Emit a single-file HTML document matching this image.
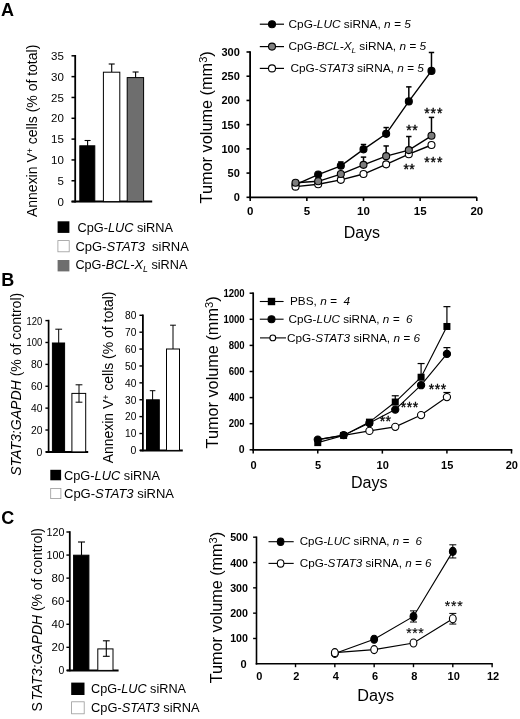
<!DOCTYPE html>
<html><head><meta charset="utf-8"><title>Figure</title>
<style>
html,body{margin:0;padding:0;background:#fff;}
body{width:520px;height:719px;overflow:hidden;font-family:"Liberation Sans",sans-serif;}
svg{display:block;filter:blur(0.35px);}
text{fill:#000;}
</style></head><body>
<svg width="520" height="719" viewBox="0 0 520 719" font-family="Liberation Sans, sans-serif">
<rect x="0" y="0" width="520" height="719" fill="#fff"/>
<text x="1.00" y="16.00" font-size="18" text-anchor="start" font-weight="bold" >A</text>
<text x="1.30" y="285.80" font-size="18" text-anchor="start" font-weight="bold" >B</text>
<text x="1.30" y="523.90" font-size="18" text-anchor="start" font-weight="bold" >C</text>
<line x1="75.20" y1="55.00" x2="75.20" y2="202.50" stroke="#000" stroke-width="1.8"/>
<line x1="71.60" y1="201.60" x2="152.20" y2="201.60" stroke="#000" stroke-width="2.0"/>
<line x1="71.50" y1="201.60" x2="75.20" y2="201.60" stroke="#000" stroke-width="1.5"/>
<text x="63.80" y="205.80" font-size="11.5" text-anchor="end" >0</text>
<line x1="71.50" y1="180.77" x2="75.20" y2="180.77" stroke="#000" stroke-width="1.5"/>
<text x="63.80" y="184.97" font-size="11.5" text-anchor="end" >5</text>
<line x1="71.50" y1="159.94" x2="75.20" y2="159.94" stroke="#000" stroke-width="1.5"/>
<text x="63.80" y="164.14" font-size="11.5" text-anchor="end" >10</text>
<line x1="71.50" y1="139.11" x2="75.20" y2="139.11" stroke="#000" stroke-width="1.5"/>
<text x="63.80" y="143.31" font-size="11.5" text-anchor="end" >15</text>
<line x1="71.50" y1="118.29" x2="75.20" y2="118.29" stroke="#000" stroke-width="1.5"/>
<text x="63.80" y="122.49" font-size="11.5" text-anchor="end" >20</text>
<line x1="71.50" y1="97.46" x2="75.20" y2="97.46" stroke="#000" stroke-width="1.5"/>
<text x="63.80" y="101.66" font-size="11.5" text-anchor="end" >25</text>
<line x1="71.50" y1="76.63" x2="75.20" y2="76.63" stroke="#000" stroke-width="1.5"/>
<text x="63.80" y="80.83" font-size="11.5" text-anchor="end" >30</text>
<line x1="71.50" y1="55.80" x2="75.20" y2="55.80" stroke="#000" stroke-width="1.5"/>
<text x="63.80" y="60.00" font-size="11.5" text-anchor="end" >35</text>
<rect x="79.80" y="145.80" width="15.00" height="55.80" fill="#000" stroke="#000" stroke-width="1.0"/>
<line x1="87.60" y1="140.50" x2="87.60" y2="146.00" stroke="#000" stroke-width="1.1"/>
<line x1="84.60" y1="140.50" x2="90.60" y2="140.50" stroke="#000" stroke-width="1.1"/>
<rect x="103.40" y="72.20" width="16.40" height="129.40" fill="#fff" stroke="#000" stroke-width="1.0"/>
<line x1="111.70" y1="64.00" x2="111.70" y2="72.00" stroke="#000" stroke-width="1.1"/>
<line x1="108.70" y1="64.00" x2="114.70" y2="64.00" stroke="#000" stroke-width="1.1"/>
<rect x="127.20" y="77.60" width="16.40" height="124.00" fill="#6e6e6e" stroke="#000" stroke-width="1.0"/>
<line x1="135.60" y1="72.00" x2="135.60" y2="77.50" stroke="#000" stroke-width="1.1"/>
<line x1="132.60" y1="72.00" x2="138.60" y2="72.00" stroke="#000" stroke-width="1.1"/>
<text x="37.40" y="217.00" font-size="14" text-anchor="start" textLength="172.3" lengthAdjust="spacingAndGlyphs" transform="rotate(-90 37.40 217.00)" >Annexin V<tspan font-size="9" dy="-4.5">+</tspan><tspan dy="4.5"> cells (% of total)</tspan></text>
<rect x="57.6" y="221.3" width="11.8" height="11.6" fill="#000"/>
<rect x="57.9" y="240.6" width="11.3" height="11.2" fill="#fff" stroke="#999" stroke-width="0.8"/>
<rect x="57.6" y="260" width="11.8" height="11.4" fill="#6e6e6e"/>
<text x="77.50" y="231.80" font-size="13" text-anchor="start" textLength="95.5" lengthAdjust="spacingAndGlyphs" >CpG-<tspan font-style="italic">LUC</tspan> siRNA</text>
<text x="75.40" y="250.90" font-size="13" text-anchor="start" textLength="113.5" lengthAdjust="spacingAndGlyphs" xml:space="preserve">CpG-<tspan font-style="italic">STAT3</tspan>  siRNA</text>
<text x="75.40" y="269.20" font-size="13" text-anchor="start" textLength="112.0" lengthAdjust="spacingAndGlyphs" >CpG-<tspan font-style="italic">BCL-X<tspan font-size="9" dy="3">L</tspan></tspan><tspan dy="-3"> siRNA</tspan></text>
<line x1="250.10" y1="51.20" x2="250.10" y2="198.20" stroke="#000" stroke-width="1.8"/>
<line x1="249.20" y1="197.30" x2="476.90" y2="197.30" stroke="#000" stroke-width="1.8"/>
<line x1="246.50" y1="197.30" x2="250.10" y2="197.30" stroke="#000" stroke-width="1.6"/>
<text x="239.80" y="201.20" font-size="11" text-anchor="end" font-weight="bold" >0</text>
<line x1="246.50" y1="173.08" x2="250.10" y2="173.08" stroke="#000" stroke-width="1.6"/>
<text x="239.80" y="176.98" font-size="11" text-anchor="end" font-weight="bold" >50</text>
<line x1="246.50" y1="148.87" x2="250.10" y2="148.87" stroke="#000" stroke-width="1.6"/>
<text x="239.80" y="152.77" font-size="11" text-anchor="end" font-weight="bold" >100</text>
<line x1="246.50" y1="124.65" x2="250.10" y2="124.65" stroke="#000" stroke-width="1.6"/>
<text x="239.80" y="128.55" font-size="11" text-anchor="end" font-weight="bold" >150</text>
<line x1="246.50" y1="100.43" x2="250.10" y2="100.43" stroke="#000" stroke-width="1.6"/>
<text x="239.80" y="104.33" font-size="11" text-anchor="end" font-weight="bold" >200</text>
<line x1="246.50" y1="76.22" x2="250.10" y2="76.22" stroke="#000" stroke-width="1.6"/>
<text x="239.80" y="80.12" font-size="11" text-anchor="end" font-weight="bold" >250</text>
<line x1="246.50" y1="52.00" x2="250.10" y2="52.00" stroke="#000" stroke-width="1.6"/>
<text x="239.80" y="55.90" font-size="11" text-anchor="end" font-weight="bold" >300</text>
<line x1="250.20" y1="197.30" x2="250.20" y2="200.90" stroke="#000" stroke-width="1.6"/>
<text x="250.20" y="215.40" font-size="11.5" text-anchor="middle" font-weight="bold" >0</text>
<line x1="306.85" y1="197.30" x2="306.85" y2="200.90" stroke="#000" stroke-width="1.6"/>
<text x="306.85" y="215.40" font-size="11.5" text-anchor="middle" font-weight="bold" >5</text>
<line x1="363.50" y1="197.30" x2="363.50" y2="200.90" stroke="#000" stroke-width="1.6"/>
<text x="363.50" y="215.40" font-size="11.5" text-anchor="middle" font-weight="bold" >10</text>
<line x1="420.15" y1="197.30" x2="420.15" y2="200.90" stroke="#000" stroke-width="1.6"/>
<text x="420.15" y="215.40" font-size="11.5" text-anchor="middle" font-weight="bold" >15</text>
<line x1="476.80" y1="197.30" x2="476.80" y2="200.90" stroke="#000" stroke-width="1.6"/>
<text x="476.80" y="215.40" font-size="11.5" text-anchor="middle" font-weight="bold" >20</text>
<line x1="340.84" y1="161.94" x2="340.84" y2="165.82" stroke="#000" stroke-width="1.5"/>
<line x1="338.14" y1="161.94" x2="343.54" y2="161.94" stroke="#000" stroke-width="1.5"/>
<line x1="363.50" y1="144.51" x2="363.50" y2="149.35" stroke="#000" stroke-width="1.5"/>
<line x1="360.80" y1="144.51" x2="366.20" y2="144.51" stroke="#000" stroke-width="1.5"/>
<line x1="386.16" y1="127.56" x2="386.16" y2="133.85" stroke="#000" stroke-width="1.5"/>
<line x1="383.46" y1="127.56" x2="388.86" y2="127.56" stroke="#000" stroke-width="1.5"/>
<line x1="408.82" y1="86.87" x2="408.82" y2="101.40" stroke="#000" stroke-width="1.5"/>
<line x1="406.12" y1="86.87" x2="411.52" y2="86.87" stroke="#000" stroke-width="1.5"/>
<line x1="431.48" y1="52.48" x2="431.48" y2="70.89" stroke="#000" stroke-width="1.5"/>
<line x1="428.78" y1="52.48" x2="434.18" y2="52.48" stroke="#000" stroke-width="1.5"/>
<line x1="363.50" y1="157.10" x2="363.50" y2="164.85" stroke="#000" stroke-width="1.5"/>
<line x1="360.80" y1="157.10" x2="366.20" y2="157.10" stroke="#000" stroke-width="1.5"/>
<line x1="386.16" y1="145.96" x2="386.16" y2="156.13" stroke="#000" stroke-width="1.5"/>
<line x1="383.46" y1="145.96" x2="388.86" y2="145.96" stroke="#000" stroke-width="1.5"/>
<line x1="408.82" y1="136.52" x2="408.82" y2="150.08" stroke="#000" stroke-width="1.5"/>
<line x1="406.12" y1="136.52" x2="411.52" y2="136.52" stroke="#000" stroke-width="1.5"/>
<line x1="431.48" y1="117.39" x2="431.48" y2="135.79" stroke="#000" stroke-width="1.5"/>
<line x1="428.78" y1="117.39" x2="434.18" y2="117.39" stroke="#000" stroke-width="1.5"/>
<polyline fill="none" stroke="#000" stroke-width="1.4" points="295.52,184.71 318.18,174.54 340.84,165.82 363.50,149.35 386.16,133.85 408.82,101.40 431.48,70.89"/>
<polyline fill="none" stroke="#000" stroke-width="1.4" points="295.52,182.77 318.18,181.32 340.84,174.05 363.50,164.85 386.16,156.13 408.82,150.08 431.48,135.79"/>
<polyline fill="none" stroke="#000" stroke-width="1.4" points="295.52,186.64 318.18,184.22 340.84,179.86 363.50,174.05 386.16,164.37 408.82,154.19 431.48,144.99"/>
<circle cx="295.52" cy="184.71" r="3.5" fill="#000" stroke="#000" stroke-width="1.1"/>
<circle cx="318.18" cy="174.54" r="3.5" fill="#000" stroke="#000" stroke-width="1.1"/>
<circle cx="340.84" cy="165.82" r="3.5" fill="#000" stroke="#000" stroke-width="1.1"/>
<circle cx="363.50" cy="149.35" r="3.5" fill="#000" stroke="#000" stroke-width="1.1"/>
<circle cx="386.16" cy="133.85" r="3.5" fill="#000" stroke="#000" stroke-width="1.1"/>
<circle cx="408.82" cy="101.40" r="3.5" fill="#000" stroke="#000" stroke-width="1.1"/>
<circle cx="431.48" cy="70.89" r="3.5" fill="#000" stroke="#000" stroke-width="1.1"/>
<circle cx="295.52" cy="186.64" r="3.5" fill="#fff" stroke="#000" stroke-width="1.1"/>
<circle cx="318.18" cy="184.22" r="3.5" fill="#fff" stroke="#000" stroke-width="1.1"/>
<circle cx="340.84" cy="179.86" r="3.5" fill="#fff" stroke="#000" stroke-width="1.1"/>
<circle cx="363.50" cy="174.05" r="3.5" fill="#fff" stroke="#000" stroke-width="1.1"/>
<circle cx="386.16" cy="164.37" r="3.5" fill="#fff" stroke="#000" stroke-width="1.1"/>
<circle cx="408.82" cy="154.19" r="3.5" fill="#fff" stroke="#000" stroke-width="1.1"/>
<circle cx="431.48" cy="144.99" r="3.5" fill="#fff" stroke="#000" stroke-width="1.1"/>
<circle cx="295.52" cy="182.77" r="3.5" fill="#7c7c7c" stroke="#000" stroke-width="1.1"/>
<circle cx="318.18" cy="181.32" r="3.5" fill="#7c7c7c" stroke="#000" stroke-width="1.1"/>
<circle cx="340.84" cy="174.05" r="3.5" fill="#7c7c7c" stroke="#000" stroke-width="1.1"/>
<circle cx="363.50" cy="164.85" r="3.5" fill="#7c7c7c" stroke="#000" stroke-width="1.1"/>
<circle cx="386.16" cy="156.13" r="3.5" fill="#7c7c7c" stroke="#000" stroke-width="1.1"/>
<circle cx="408.82" cy="150.08" r="3.5" fill="#7c7c7c" stroke="#000" stroke-width="1.1"/>
<circle cx="431.48" cy="135.79" r="3.5" fill="#7c7c7c" stroke="#000" stroke-width="1.1"/>
<text x="211.80" y="203.40" font-size="16" text-anchor="start" textLength="152.2" lengthAdjust="spacingAndGlyphs" transform="rotate(-90 211.80 203.40)" >Tumor volume (mm<tspan font-size="11" dy="-5">3</tspan><tspan dy="5">)</tspan></text>
<text x="343.70" y="237.70" font-size="16" text-anchor="start" textLength="36.4" lengthAdjust="spacingAndGlyphs" >Days</text>
<line x1="259.80" y1="24.20" x2="284.00" y2="24.20" stroke="#000" stroke-width="1.2"/>
<circle cx="272.00" cy="24.20" r="3.5" fill="#000" stroke="#000" stroke-width="1.1"/>
<line x1="259.80" y1="46.60" x2="284.00" y2="46.60" stroke="#000" stroke-width="1.2"/>
<circle cx="272.00" cy="46.60" r="3.5" fill="#808080" stroke="#000" stroke-width="1.1"/>
<line x1="259.80" y1="68.40" x2="284.00" y2="68.40" stroke="#000" stroke-width="1.2"/>
<circle cx="272.00" cy="68.40" r="3.5" fill="#fff" stroke="#000" stroke-width="1.1"/>
<text x="288.50" y="28.00" font-size="11.5" text-anchor="start" textLength="122.3" lengthAdjust="spacingAndGlyphs" >CpG-<tspan font-style="italic">LUC</tspan> siRNA, <tspan font-style="italic">n = 5</tspan></text>
<text x="288.50" y="50.40" font-size="11.5" text-anchor="start" textLength="137.5" lengthAdjust="spacingAndGlyphs" >CpG-<tspan font-style="italic">BCL-X<tspan font-size="8" dy="2.6">L</tspan></tspan><tspan dy="-2.6"> siRNA, </tspan><tspan font-style="italic">n = 5</tspan></text>
<text x="290.40" y="71.70" font-size="11.5" text-anchor="start" textLength="133.4" lengthAdjust="spacingAndGlyphs" >CpG-<tspan font-style="italic">STAT3</tspan> siRNA, <tspan font-style="italic">n = 5</tspan></text>
<text x="427.00" y="118.08" font-size="14" text-anchor="middle" stroke="#000" stroke-width="0.35">*</text>
<text x="433.35" y="118.08" font-size="14" text-anchor="middle" stroke="#000" stroke-width="0.35">*</text>
<text x="439.70" y="118.08" font-size="14" text-anchor="middle" stroke="#000" stroke-width="0.35">*</text>
<text x="409.10" y="134.88" font-size="14" text-anchor="middle" stroke="#000" stroke-width="0.35">*</text>
<text x="415.00" y="134.88" font-size="14" text-anchor="middle" stroke="#000" stroke-width="0.35">*</text>
<text x="406.30" y="174.08" font-size="14" text-anchor="middle" stroke="#000" stroke-width="0.35">*</text>
<text x="412.10" y="174.08" font-size="14" text-anchor="middle" stroke="#000" stroke-width="0.35">*</text>
<text x="427.00" y="167.18" font-size="14" text-anchor="middle" stroke="#000" stroke-width="0.35">*</text>
<text x="433.35" y="167.18" font-size="14" text-anchor="middle" stroke="#000" stroke-width="0.35">*</text>
<text x="439.70" y="167.18" font-size="14" text-anchor="middle" stroke="#000" stroke-width="0.35">*</text>
<line x1="48.60" y1="319.80" x2="48.60" y2="452.80" stroke="#000" stroke-width="1.7"/>
<line x1="45.80" y1="451.90" x2="88.20" y2="451.90" stroke="#000" stroke-width="2.0"/>
<line x1="45.40" y1="451.90" x2="48.60" y2="451.90" stroke="#000" stroke-width="1.4"/>
<text x="42.40" y="455.80" font-size="10.5" text-anchor="end" >0</text>
<line x1="45.40" y1="430.02" x2="48.60" y2="430.02" stroke="#000" stroke-width="1.4"/>
<text x="42.40" y="433.92" font-size="10.5" text-anchor="end" textLength="11.5" lengthAdjust="spacingAndGlyphs" >20</text>
<line x1="45.40" y1="408.13" x2="48.60" y2="408.13" stroke="#000" stroke-width="1.4"/>
<text x="42.40" y="412.03" font-size="10.5" text-anchor="end" textLength="11.5" lengthAdjust="spacingAndGlyphs" >40</text>
<line x1="45.40" y1="386.25" x2="48.60" y2="386.25" stroke="#000" stroke-width="1.4"/>
<text x="42.40" y="390.15" font-size="10.5" text-anchor="end" textLength="11.5" lengthAdjust="spacingAndGlyphs" >60</text>
<line x1="45.40" y1="364.37" x2="48.60" y2="364.37" stroke="#000" stroke-width="1.4"/>
<text x="42.40" y="368.27" font-size="10.5" text-anchor="end" textLength="11.5" lengthAdjust="spacingAndGlyphs" >80</text>
<line x1="45.40" y1="342.48" x2="48.60" y2="342.48" stroke="#000" stroke-width="1.4"/>
<text x="42.40" y="346.38" font-size="10.5" text-anchor="end" textLength="15.8" lengthAdjust="spacingAndGlyphs" >100</text>
<line x1="45.40" y1="320.60" x2="48.60" y2="320.60" stroke="#000" stroke-width="1.4"/>
<text x="42.40" y="324.50" font-size="10.5" text-anchor="end" textLength="15.8" lengthAdjust="spacingAndGlyphs" >120</text>
<rect x="52.40" y="343.00" width="12.20" height="108.90" fill="#000" stroke="#000" stroke-width="1.0"/>
<line x1="58.70" y1="329.20" x2="58.70" y2="343.00" stroke="#000" stroke-width="1.0"/>
<line x1="55.30" y1="329.20" x2="62.10" y2="329.20" stroke="#000" stroke-width="1.0"/>
<rect x="71.90" y="393.40" width="13.80" height="58.50" fill="#fff" stroke="#000" stroke-width="1.0"/>
<line x1="79.00" y1="384.80" x2="79.00" y2="402.20" stroke="#000" stroke-width="1.0"/>
<line x1="75.60" y1="384.80" x2="82.40" y2="384.80" stroke="#000" stroke-width="1.0"/>
<line x1="75.60" y1="402.20" x2="82.40" y2="402.20" stroke="#000" stroke-width="1.0"/>
<text x="20.90" y="475.80" font-size="14" text-anchor="start" textLength="183.0" lengthAdjust="spacingAndGlyphs" transform="rotate(-90 20.90 475.80)" ><tspan font-style="italic">STAT3:GAPDH</tspan> (% of control)</text>
<line x1="142.90" y1="314.50" x2="142.90" y2="451.30" stroke="#000" stroke-width="1.8"/>
<line x1="140.00" y1="450.40" x2="182.80" y2="450.40" stroke="#000" stroke-width="2.0"/>
<line x1="139.40" y1="450.40" x2="142.90" y2="450.40" stroke="#000" stroke-width="1.4"/>
<text x="136.30" y="454.20" font-size="10.5" text-anchor="end" >0</text>
<line x1="139.40" y1="433.51" x2="142.90" y2="433.51" stroke="#000" stroke-width="1.4"/>
<text x="136.30" y="437.31" font-size="10.5" text-anchor="end" textLength="11.3" lengthAdjust="spacingAndGlyphs" >10</text>
<line x1="139.40" y1="416.62" x2="142.90" y2="416.62" stroke="#000" stroke-width="1.4"/>
<text x="136.30" y="420.43" font-size="10.5" text-anchor="end" textLength="11.3" lengthAdjust="spacingAndGlyphs" >20</text>
<line x1="139.40" y1="399.74" x2="142.90" y2="399.74" stroke="#000" stroke-width="1.4"/>
<text x="136.30" y="403.54" font-size="10.5" text-anchor="end" textLength="11.3" lengthAdjust="spacingAndGlyphs" >30</text>
<line x1="139.40" y1="382.85" x2="142.90" y2="382.85" stroke="#000" stroke-width="1.4"/>
<text x="136.30" y="386.65" font-size="10.5" text-anchor="end" textLength="11.3" lengthAdjust="spacingAndGlyphs" >40</text>
<line x1="139.40" y1="365.96" x2="142.90" y2="365.96" stroke="#000" stroke-width="1.4"/>
<text x="136.30" y="369.76" font-size="10.5" text-anchor="end" textLength="11.3" lengthAdjust="spacingAndGlyphs" >50</text>
<line x1="139.40" y1="349.07" x2="142.90" y2="349.07" stroke="#000" stroke-width="1.4"/>
<text x="136.30" y="352.88" font-size="10.5" text-anchor="end" textLength="11.3" lengthAdjust="spacingAndGlyphs" >60</text>
<line x1="139.40" y1="332.19" x2="142.90" y2="332.19" stroke="#000" stroke-width="1.4"/>
<text x="136.30" y="335.99" font-size="10.5" text-anchor="end" textLength="11.3" lengthAdjust="spacingAndGlyphs" >70</text>
<line x1="139.40" y1="315.30" x2="142.90" y2="315.30" stroke="#000" stroke-width="1.4"/>
<text x="136.30" y="319.10" font-size="10.5" text-anchor="end" textLength="11.3" lengthAdjust="spacingAndGlyphs" >80</text>
<rect x="146.50" y="399.80" width="12.80" height="50.60" fill="#000" stroke="#000" stroke-width="1.0"/>
<line x1="152.60" y1="390.70" x2="152.60" y2="400.00" stroke="#000" stroke-width="1.0"/>
<line x1="149.80" y1="390.70" x2="155.40" y2="390.70" stroke="#000" stroke-width="1.0"/>
<rect x="166.50" y="349.00" width="13.00" height="101.40" fill="#fff" stroke="#000" stroke-width="1.0"/>
<line x1="173.00" y1="325.20" x2="173.00" y2="349.00" stroke="#000" stroke-width="1.0"/>
<line x1="170.10" y1="325.20" x2="175.90" y2="325.20" stroke="#000" stroke-width="1.0"/>
<text x="113.50" y="463.30" font-size="14" text-anchor="start" textLength="171.8" lengthAdjust="spacingAndGlyphs" transform="rotate(-90 113.50 463.30)" >Annexin V<tspan font-size="9" dy="-4.5">+</tspan><tspan dy="4.5"> cells (% of total)</tspan></text>
<rect x="50.3" y="469.8" width="10.8" height="10.5" fill="#000"/>
<rect x="50.7" y="488.4" width="10.2" height="10.2" fill="#fff" stroke="#999" stroke-width="0.8"/>
<text x="64.00" y="479.70" font-size="13" text-anchor="start" textLength="96.0" lengthAdjust="spacingAndGlyphs" >CpG-<tspan font-style="italic">LUC</tspan> siRNA</text>
<text x="64.00" y="497.60" font-size="13" text-anchor="start" textLength="110.0" lengthAdjust="spacingAndGlyphs" >CpG-<tspan font-style="italic">STAT3</tspan> siRNA</text>
<line x1="253.20" y1="292.40" x2="253.20" y2="450.60" stroke="#000" stroke-width="1.7"/>
<line x1="252.40" y1="449.80" x2="512.30" y2="449.80" stroke="#000" stroke-width="1.7"/>
<line x1="249.60" y1="449.80" x2="253.20" y2="449.80" stroke="#000" stroke-width="1.5"/>
<text x="244.70" y="453.40" font-size="10.5" text-anchor="end" font-weight="bold" >0</text>
<line x1="249.60" y1="423.70" x2="253.20" y2="423.70" stroke="#000" stroke-width="1.5"/>
<text x="244.70" y="427.30" font-size="10.5" text-anchor="end" font-weight="bold" textLength="16.0" lengthAdjust="spacingAndGlyphs" >200</text>
<line x1="249.60" y1="397.60" x2="253.20" y2="397.60" stroke="#000" stroke-width="1.5"/>
<text x="244.70" y="401.20" font-size="10.5" text-anchor="end" font-weight="bold" textLength="16.0" lengthAdjust="spacingAndGlyphs" >400</text>
<line x1="249.60" y1="371.50" x2="253.20" y2="371.50" stroke="#000" stroke-width="1.5"/>
<text x="244.70" y="375.10" font-size="10.5" text-anchor="end" font-weight="bold" textLength="16.0" lengthAdjust="spacingAndGlyphs" >600</text>
<line x1="249.60" y1="345.40" x2="253.20" y2="345.40" stroke="#000" stroke-width="1.5"/>
<text x="244.70" y="349.00" font-size="10.5" text-anchor="end" font-weight="bold" textLength="16.0" lengthAdjust="spacingAndGlyphs" >800</text>
<line x1="249.60" y1="319.30" x2="253.20" y2="319.30" stroke="#000" stroke-width="1.5"/>
<text x="244.70" y="322.90" font-size="10.5" text-anchor="end" font-weight="bold" textLength="21.3" lengthAdjust="spacingAndGlyphs" >1000</text>
<line x1="249.60" y1="293.20" x2="253.20" y2="293.20" stroke="#000" stroke-width="1.5"/>
<text x="244.70" y="296.80" font-size="10.5" text-anchor="end" font-weight="bold" textLength="21.3" lengthAdjust="spacingAndGlyphs" >1200</text>
<line x1="253.20" y1="449.80" x2="253.20" y2="453.60" stroke="#000" stroke-width="1.5"/>
<text x="253.50" y="469.30" font-size="11" text-anchor="middle" font-weight="bold" >0</text>
<line x1="317.77" y1="449.80" x2="317.77" y2="453.60" stroke="#000" stroke-width="1.5"/>
<text x="318.07" y="469.30" font-size="11" text-anchor="middle" font-weight="bold" >5</text>
<line x1="382.35" y1="449.80" x2="382.35" y2="453.60" stroke="#000" stroke-width="1.5"/>
<text x="382.65" y="469.30" font-size="11" text-anchor="middle" font-weight="bold" >10</text>
<line x1="446.92" y1="449.80" x2="446.92" y2="453.60" stroke="#000" stroke-width="1.5"/>
<text x="447.22" y="469.30" font-size="11" text-anchor="middle" font-weight="bold" >15</text>
<line x1="511.50" y1="449.80" x2="511.50" y2="453.60" stroke="#000" stroke-width="1.5"/>
<text x="511.80" y="469.30" font-size="11" text-anchor="middle" font-weight="bold" >20</text>
<line x1="395.26" y1="395.77" x2="395.26" y2="402.04" stroke="#000" stroke-width="1.2"/>
<line x1="391.76" y1="395.77" x2="398.76" y2="395.77" stroke="#000" stroke-width="1.2"/>
<line x1="421.09" y1="363.54" x2="421.09" y2="377.24" stroke="#000" stroke-width="1.2"/>
<line x1="417.59" y1="363.54" x2="424.59" y2="363.54" stroke="#000" stroke-width="1.2"/>
<line x1="446.92" y1="306.64" x2="446.92" y2="326.48" stroke="#000" stroke-width="1.2"/>
<line x1="443.42" y1="306.64" x2="450.42" y2="306.64" stroke="#000" stroke-width="1.2"/>
<line x1="446.92" y1="347.62" x2="446.92" y2="353.88" stroke="#000" stroke-width="1.2"/>
<line x1="443.42" y1="347.62" x2="450.42" y2="347.62" stroke="#000" stroke-width="1.2"/>
<line x1="446.92" y1="392.51" x2="446.92" y2="397.08" stroke="#000" stroke-width="1.2"/>
<line x1="443.42" y1="392.51" x2="450.42" y2="392.51" stroke="#000" stroke-width="1.2"/>
<polyline fill="none" stroke="#000" stroke-width="1.15" points="317.77,442.62 343.61,435.44 369.43,422.13 395.26,402.04 421.09,377.24 446.92,326.48"/>
<polyline fill="none" stroke="#000" stroke-width="1.15" points="317.77,439.62 343.61,435.18 369.43,423.05 395.26,409.61 421.09,385.20 446.92,353.88"/>
<polyline fill="none" stroke="#000" stroke-width="1.15" points="317.77,439.62 343.61,435.44 369.43,430.88 395.26,426.83 421.09,415.09 446.92,397.08"/>
<rect x="314.27" y="439.12" width="7.0" height="7.0" fill="#000"/>
<rect x="340.11" y="431.94" width="7.0" height="7.0" fill="#000"/>
<rect x="365.93" y="418.63" width="7.0" height="7.0" fill="#000"/>
<rect x="391.76" y="398.54" width="7.0" height="7.0" fill="#000"/>
<rect x="417.59" y="373.74" width="7.0" height="7.0" fill="#000"/>
<rect x="443.42" y="322.98" width="7.0" height="7.0" fill="#000"/>
<circle cx="317.77" cy="439.62" r="3.6" fill="#000" stroke="#000" stroke-width="1.1"/>
<circle cx="343.61" cy="435.18" r="3.6" fill="#000" stroke="#000" stroke-width="1.1"/>
<circle cx="369.43" cy="423.05" r="3.6" fill="#000" stroke="#000" stroke-width="1.1"/>
<circle cx="395.26" cy="409.61" r="3.6" fill="#000" stroke="#000" stroke-width="1.1"/>
<circle cx="421.09" cy="385.20" r="3.6" fill="#000" stroke="#000" stroke-width="1.1"/>
<circle cx="446.92" cy="353.88" r="3.6" fill="#000" stroke="#000" stroke-width="1.1"/>
<circle cx="369.43" cy="430.88" r="3.6" fill="#fff" stroke="#000" stroke-width="1.1"/>
<circle cx="395.26" cy="426.83" r="3.6" fill="#fff" stroke="#000" stroke-width="1.1"/>
<circle cx="421.09" cy="415.09" r="3.6" fill="#fff" stroke="#000" stroke-width="1.1"/>
<circle cx="446.92" cy="397.08" r="3.6" fill="#fff" stroke="#000" stroke-width="1.1"/>
<text x="217.90" y="448.40" font-size="16" text-anchor="start" textLength="152.0" lengthAdjust="spacingAndGlyphs" transform="rotate(-90 217.90 448.40)" >Tumor volume (mm<tspan font-size="11" dy="-5">3</tspan><tspan dy="5">)</tspan></text>
<text x="350.90" y="487.80" font-size="16" text-anchor="start" textLength="36.6" lengthAdjust="spacingAndGlyphs" >Days</text>
<line x1="259.80" y1="301.50" x2="283.60" y2="301.50" stroke="#000" stroke-width="1.1"/>
<rect x="267.80" y="297.80" width="7.4" height="7.4" fill="#000"/>
<line x1="259.80" y1="319.20" x2="283.60" y2="319.20" stroke="#000" stroke-width="1.1"/>
<circle cx="271.50" cy="319.20" r="3.5" fill="#000" stroke="#000" stroke-width="1.1"/>
<line x1="260.00" y1="337.90" x2="286.00" y2="337.90" stroke="#000" stroke-width="1.1"/>
<circle cx="272.80" cy="337.90" r="2.9" fill="#fff" stroke="#000" stroke-width="1.1"/>
<text x="290.00" y="305.30" font-size="11" text-anchor="start" textLength="60.0" lengthAdjust="spacingAndGlyphs" xml:space="preserve">PBS, <tspan font-style="italic">n =  4</tspan></text>
<text x="288.50" y="323.00" font-size="11" text-anchor="start" textLength="124.0" lengthAdjust="spacingAndGlyphs" xml:space="preserve">CpG-<tspan font-style="italic">LUC</tspan> siRNA, <tspan font-style="italic">n =  6</tspan></text>
<text x="287.00" y="341.50" font-size="11" text-anchor="start" textLength="133.0" lengthAdjust="spacingAndGlyphs" >CpG-<tspan font-style="italic">STAT3</tspan> siRNA, <tspan font-style="italic">n = 6</tspan></text>
<text x="382.60" y="425.58" font-size="14" text-anchor="middle" stroke="#000" stroke-width="0.35">*</text>
<text x="388.20" y="425.58" font-size="14" text-anchor="middle" stroke="#000" stroke-width="0.35">*</text>
<text x="403.40" y="412.08" font-size="14" text-anchor="middle" stroke="#000" stroke-width="0.35">*</text>
<text x="409.50" y="412.08" font-size="14" text-anchor="middle" stroke="#000" stroke-width="0.35">*</text>
<text x="415.60" y="412.08" font-size="14" text-anchor="middle" stroke="#000" stroke-width="0.35">*</text>
<text x="431.40" y="393.88" font-size="14" text-anchor="middle" stroke="#000" stroke-width="0.35">*</text>
<text x="437.45" y="393.88" font-size="14" text-anchor="middle" stroke="#000" stroke-width="0.35">*</text>
<text x="443.50" y="393.88" font-size="14" text-anchor="middle" stroke="#000" stroke-width="0.35">*</text>
<line x1="69.80" y1="531.20" x2="69.80" y2="671.30" stroke="#000" stroke-width="1.8"/>
<line x1="66.80" y1="670.40" x2="118.60" y2="670.40" stroke="#000" stroke-width="2.0"/>
<line x1="66.40" y1="670.40" x2="69.80" y2="670.40" stroke="#000" stroke-width="1.4"/>
<text x="64.40" y="674.40" font-size="10.5" text-anchor="end" >0</text>
<line x1="66.40" y1="647.33" x2="69.80" y2="647.33" stroke="#000" stroke-width="1.4"/>
<text x="64.40" y="651.33" font-size="10.5" text-anchor="end" textLength="12.8" lengthAdjust="spacingAndGlyphs" >20</text>
<line x1="66.40" y1="624.27" x2="69.80" y2="624.27" stroke="#000" stroke-width="1.4"/>
<text x="64.40" y="628.27" font-size="10.5" text-anchor="end" textLength="12.8" lengthAdjust="spacingAndGlyphs" >40</text>
<line x1="66.40" y1="601.20" x2="69.80" y2="601.20" stroke="#000" stroke-width="1.4"/>
<text x="64.40" y="605.20" font-size="10.5" text-anchor="end" textLength="12.8" lengthAdjust="spacingAndGlyphs" >60</text>
<line x1="66.40" y1="578.13" x2="69.80" y2="578.13" stroke="#000" stroke-width="1.4"/>
<text x="64.40" y="582.13" font-size="10.5" text-anchor="end" textLength="12.8" lengthAdjust="spacingAndGlyphs" >80</text>
<line x1="66.40" y1="555.07" x2="69.80" y2="555.07" stroke="#000" stroke-width="1.4"/>
<text x="64.40" y="559.07" font-size="10.5" text-anchor="end" textLength="18.0" lengthAdjust="spacingAndGlyphs" >100</text>
<line x1="66.40" y1="532.00" x2="69.80" y2="532.00" stroke="#000" stroke-width="1.4"/>
<text x="64.40" y="536.00" font-size="10.5" text-anchor="end" textLength="18.0" lengthAdjust="spacingAndGlyphs" >120</text>
<rect x="73.60" y="555.20" width="15.30" height="115.20" fill="#000" stroke="#000" stroke-width="1.0"/>
<line x1="81.50" y1="542.00" x2="81.50" y2="555.50" stroke="#000" stroke-width="1.1"/>
<line x1="78.00" y1="542.00" x2="85.00" y2="542.00" stroke="#000" stroke-width="1.1"/>
<rect x="97.80" y="648.90" width="15.20" height="21.50" fill="#fff" stroke="#000" stroke-width="1.0"/>
<line x1="106.30" y1="640.80" x2="106.30" y2="656.30" stroke="#000" stroke-width="1.1"/>
<line x1="102.90" y1="640.80" x2="109.70" y2="640.80" stroke="#000" stroke-width="1.1"/>
<line x1="102.90" y1="656.30" x2="109.70" y2="656.30" stroke="#000" stroke-width="1.1"/>
<text x="42.00" y="711.60" font-size="14" text-anchor="start" textLength="183.5" lengthAdjust="spacingAndGlyphs" transform="rotate(-90 42.00 711.60)" >S<tspan font-style="italic" dx="1.8">TAT3:GAPDH</tspan> (% of control)</text>
<rect x="71.2" y="682.6" width="13.3" height="12.4" fill="#000"/>
<rect x="71.6" y="701.8" width="12.6" height="12" fill="#fff" stroke="#999" stroke-width="0.8"/>
<text x="91.00" y="693.00" font-size="13" text-anchor="start" textLength="95.0" lengthAdjust="spacingAndGlyphs" >CpG-<tspan font-style="italic">LUC</tspan> siRNA</text>
<text x="91.00" y="712.00" font-size="13" text-anchor="start" textLength="108.7" lengthAdjust="spacingAndGlyphs" >CpG-<tspan font-style="italic">STAT3</tspan> siRNA</text>
<line x1="256.50" y1="536.50" x2="256.50" y2="664.60" stroke="#000" stroke-width="1.6"/>
<line x1="255.70" y1="663.80" x2="492.82" y2="663.80" stroke="#000" stroke-width="1.6"/>
<text x="246.50" y="667.80" font-size="11" text-anchor="end" font-weight="bold" >0</text>
<line x1="253.10" y1="638.48" x2="256.50" y2="638.48" stroke="#000" stroke-width="1.4"/>
<text x="248.00" y="642.48" font-size="11" text-anchor="end" font-weight="bold" textLength="17.8" lengthAdjust="spacingAndGlyphs" >100</text>
<line x1="253.10" y1="613.16" x2="256.50" y2="613.16" stroke="#000" stroke-width="1.4"/>
<text x="248.00" y="617.16" font-size="11" text-anchor="end" font-weight="bold" textLength="17.8" lengthAdjust="spacingAndGlyphs" >200</text>
<line x1="253.10" y1="587.84" x2="256.50" y2="587.84" stroke="#000" stroke-width="1.4"/>
<text x="248.00" y="591.84" font-size="11" text-anchor="end" font-weight="bold" textLength="17.8" lengthAdjust="spacingAndGlyphs" >300</text>
<line x1="253.10" y1="562.52" x2="256.50" y2="562.52" stroke="#000" stroke-width="1.4"/>
<text x="248.00" y="566.52" font-size="11" text-anchor="end" font-weight="bold" textLength="17.8" lengthAdjust="spacingAndGlyphs" >400</text>
<line x1="253.10" y1="537.20" x2="256.50" y2="537.20" stroke="#000" stroke-width="1.4"/>
<text x="248.00" y="541.20" font-size="11" text-anchor="end" font-weight="bold" textLength="17.8" lengthAdjust="spacingAndGlyphs" >500</text>
<text x="259.30" y="680.10" font-size="11" text-anchor="middle" font-weight="bold" >0</text>
<line x1="295.52" y1="663.80" x2="295.52" y2="667.20" stroke="#000" stroke-width="1.4"/>
<text x="296.42" y="680.10" font-size="11" text-anchor="middle" font-weight="bold" >2</text>
<line x1="334.84" y1="663.80" x2="334.84" y2="667.20" stroke="#000" stroke-width="1.4"/>
<text x="335.74" y="680.10" font-size="11" text-anchor="middle" font-weight="bold" >4</text>
<line x1="374.16" y1="663.80" x2="374.16" y2="667.20" stroke="#000" stroke-width="1.4"/>
<text x="375.06" y="680.10" font-size="11" text-anchor="middle" font-weight="bold" >6</text>
<line x1="413.48" y1="663.80" x2="413.48" y2="667.20" stroke="#000" stroke-width="1.4"/>
<text x="414.38" y="680.10" font-size="11" text-anchor="middle" font-weight="bold" >8</text>
<line x1="452.80" y1="663.80" x2="452.80" y2="667.20" stroke="#000" stroke-width="1.4"/>
<text x="453.70" y="680.10" font-size="11" text-anchor="middle" font-weight="bold" >10</text>
<line x1="492.12" y1="663.80" x2="492.12" y2="667.20" stroke="#000" stroke-width="1.4"/>
<text x="493.02" y="680.10" font-size="11" text-anchor="middle" font-weight="bold" >12</text>
<line x1="413.48" y1="610.88" x2="413.48" y2="622.02" stroke="#000" stroke-width="1.0"/>
<line x1="409.98" y1="610.88" x2="416.98" y2="610.88" stroke="#000" stroke-width="1.0"/>
<line x1="409.98" y1="622.02" x2="416.98" y2="622.02" stroke="#000" stroke-width="1.0"/>
<line x1="452.80" y1="544.80" x2="452.80" y2="557.96" stroke="#000" stroke-width="1.0"/>
<line x1="449.30" y1="544.80" x2="456.30" y2="544.80" stroke="#000" stroke-width="1.0"/>
<line x1="449.30" y1="557.96" x2="456.30" y2="557.96" stroke="#000" stroke-width="1.0"/>
<line x1="452.80" y1="613.41" x2="452.80" y2="624.05" stroke="#000" stroke-width="1.0"/>
<line x1="449.30" y1="613.41" x2="456.30" y2="613.41" stroke="#000" stroke-width="1.0"/>
<line x1="449.30" y1="624.05" x2="456.30" y2="624.05" stroke="#000" stroke-width="1.0"/>
<polyline fill="none" stroke="#000" stroke-width="1.15" points="334.84,653.42 374.16,639.24 413.48,616.45 452.80,551.38"/>
<polyline fill="none" stroke="#000" stroke-width="1.15" points="334.84,652.66 374.16,649.62 413.48,643.04 452.80,618.73"/>
<ellipse cx="334.84" cy="653.42" rx="3.4" ry="4.0" fill="#000" stroke="#000" stroke-width="1.1"/>
<ellipse cx="374.16" cy="639.24" rx="3.4" ry="4.0" fill="#000" stroke="#000" stroke-width="1.1"/>
<ellipse cx="413.48" cy="616.45" rx="3.4" ry="4.0" fill="#000" stroke="#000" stroke-width="1.1"/>
<ellipse cx="452.80" cy="551.38" rx="3.4" ry="4.0" fill="#000" stroke="#000" stroke-width="1.1"/>
<ellipse cx="334.84" cy="652.66" rx="3.4" ry="4.0" fill="#fff" stroke="#000" stroke-width="1.1"/>
<ellipse cx="374.16" cy="649.62" rx="3.4" ry="4.0" fill="#fff" stroke="#000" stroke-width="1.1"/>
<ellipse cx="413.48" cy="643.04" rx="3.4" ry="4.0" fill="#fff" stroke="#000" stroke-width="1.1"/>
<ellipse cx="452.80" cy="618.73" rx="3.4" ry="4.0" fill="#fff" stroke="#000" stroke-width="1.1"/>
<text x="222.30" y="683.30" font-size="16" text-anchor="start" textLength="151.5" lengthAdjust="spacingAndGlyphs" transform="rotate(-90 222.30 683.30)" >Tumor volume (mm<tspan font-size="11" dy="-5">3</tspan><tspan dy="5">)</tspan></text>
<text x="357.20" y="701.00" font-size="16" text-anchor="start" textLength="37.0" lengthAdjust="spacingAndGlyphs" >Days</text>
<line x1="268.50" y1="541.70" x2="293.70" y2="541.70" stroke="#000" stroke-width="1.1"/>
<ellipse cx="280.60" cy="541.70" rx="3.3" ry="3.7" fill="#000" stroke="#000" stroke-width="1.1"/>
<line x1="268.50" y1="563.40" x2="293.70" y2="563.40" stroke="#000" stroke-width="1.1"/>
<ellipse cx="280.60" cy="563.40" rx="3.3" ry="3.7" fill="#fff" stroke="#000" stroke-width="1.1"/>
<text x="299.70" y="545.20" font-size="11" text-anchor="start" textLength="122.3" lengthAdjust="spacingAndGlyphs" xml:space="preserve">CpG-<tspan font-style="italic">LUC</tspan> siRNA, <tspan font-style="italic">n =  6</tspan></text>
<text x="299.70" y="567.00" font-size="11" text-anchor="start" textLength="131.8" lengthAdjust="spacingAndGlyphs" >CpG-<tspan font-style="italic">STAT3</tspan> siRNA, <tspan font-style="italic">n = 6</tspan></text>
<text x="447.60" y="610.78" font-size="14" text-anchor="middle" stroke="#000" stroke-width="0.15">*</text>
<text x="453.80" y="610.78" font-size="14" text-anchor="middle" stroke="#000" stroke-width="0.15">*</text>
<text x="460.00" y="610.78" font-size="14" text-anchor="middle" stroke="#000" stroke-width="0.15">*</text>
<text x="409.10" y="637.58" font-size="14" text-anchor="middle" stroke="#000" stroke-width="0.15">*</text>
<text x="415.10" y="637.58" font-size="14" text-anchor="middle" stroke="#000" stroke-width="0.15">*</text>
<text x="421.10" y="637.58" font-size="14" text-anchor="middle" stroke="#000" stroke-width="0.15">*</text>
</svg>
</body></html>
